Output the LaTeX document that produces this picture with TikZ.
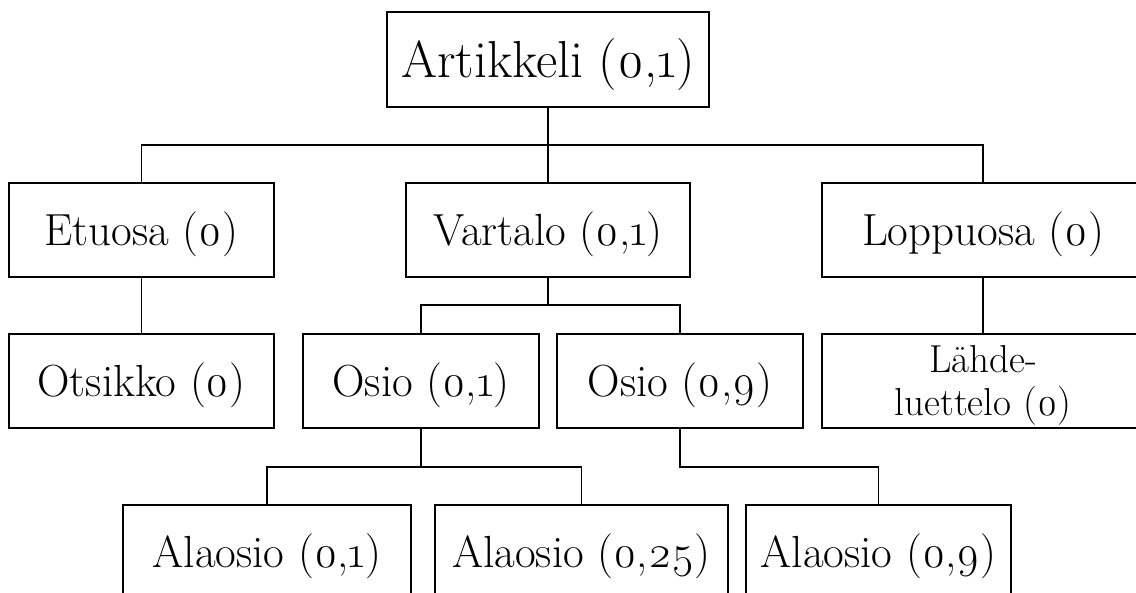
\documentclass[tikz,border=0pt]{standalone}
\usepackage{fontspec}
\setmainfont{Latin Modern Roman}[Numbers=OldStyle]
\tikzset{
  box/.style={draw=black, line width=1.2pt, rectangle, inner sep=0pt,
    font=\fontsize{45}{54}\selectfont, text height=30.7pt, text depth=0pt},
  conn/.style={draw=black, line width=1.1pt}
}
\begin{document}
\begin{tikzpicture}[x=1pt,y=-1pt]
\useasboundingbox (0,0) rectangle (1136,593);
\clip (0,0) rectangle (1136,593);
\fill[white] (0,0) rectangle (1136,593);
% row 1
\node[box, minimum width=322pt, minimum height=95pt, font=\fontsize{52}{60}\selectfont, text height=35.5pt] (art) at (548,59.5) {Artikkeli (0,1)};
% row 2
\node[box, minimum width=265pt, minimum height=94pt] (eto) at (141.5,230) {Etuosa (0)};
\node[box, minimum width=284pt, minimum height=94pt] (var) at (548,230) {Vartalo (0,1)};
\node[box, minimum width=322pt, minimum height=94pt] (lop) at (983,230) {Loppuosa (0)};
% row 3
\node[box, minimum width=265pt, minimum height=94pt] (ots) at (141.5,381) {Otsikko (0)};
\node[box, minimum width=236pt, minimum height=94pt] (os1) at (421,381) {Osio (0,1)};
\node[box, minimum width=246pt, minimum height=94pt] (os9) at (680,381) {Osio (0,9)};
\node[box, minimum width=322pt, minimum height=94pt, font=\fontsize{39}{42.7}\selectfont, text height=69.3pt, text depth=0pt] (lah) at (983,381) {\begin{tabular}[b]{@{}c@{}}Lähde-\\luettelo (0)\end{tabular}};
% row 4
\node[box, minimum width=288pt, minimum height=94pt] (al1) at (267,552) {Alaosio (0,1)};
\node[box, minimum width=293pt, minimum height=94pt] (al25) at (581.5,552) {Alaosio (0,25)};
\node[box, minimum width=265pt, minimum height=94pt] (al9) at (878.5,552) {Alaosio (0,9)};
% junctions
\coordinate (b1) at (548,145);
\coordinate (b2) at (548,305);
\coordinate (b3) at (421,467);
\coordinate (b4) at (680,467);
% connectors
\draw[conn] (art.south) -- (var.north);
\draw[conn] (eto.north) |- (b1) -| (lop.north);
\draw[conn] (eto.south) -- (ots.north);
\draw[conn] (lop.south) -- (lah.north);
\draw[conn] (var.south) -- (b2);
\draw[conn] (os1.north) |- (b2) -| (os9.north);
\draw[conn] (os1.south) -- (b3);
\draw[conn] (al1.north) |- (b3) -| (al25.north);
\draw[conn] (os9.south) -- (b4) -| (al9.north);
\end{tikzpicture}
\end{document}
